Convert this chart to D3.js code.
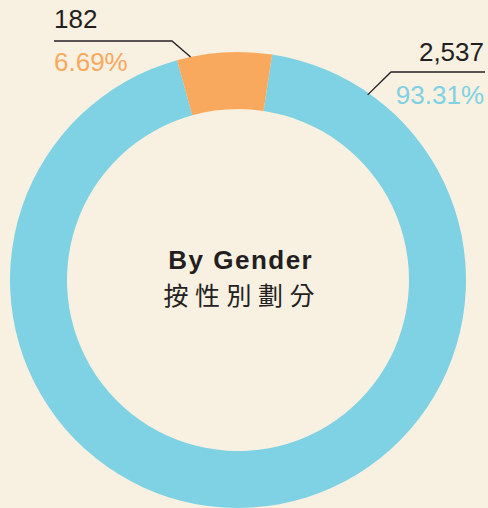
<!DOCTYPE html>
<html>
<head>
<meta charset="utf-8">
<script src="https://cdn.jsdelivr.net/npm/d3@7"></script>
<style>
  body { margin: 0; background: #f8f0e1; }
  svg { display: block; }
</style>
</head>
<body>
<svg id="chart" width="488" height="508"></svg>
<script>
// data
var categories = ["Male", "Female"];
var counts = [2537, 182];
var countLabels = ["2,537", "182"];
var percentLabels = ["93.31%", "6.69%"];
var colors = ["#7fd2e3", "#f8a95d"];

var width = 488, height = 508;
var cx = 238, cy = 280;
var outerR = 228, innerR = 171;

var svg = d3.select("#chart");

var g = svg.append("g").attr("transform", "translate(" + cx + "," + cy + ")");

// pie starts a bit past 12 o'clock so the small slice sits near the top
var startOffset = 8.6 * Math.PI / 180;
var pie = d3.pie()
  .sort(null)
  .startAngle(startOffset)
  .endAngle(startOffset + 2 * Math.PI);

var arcs = pie(counts);

var arc = d3.arc().innerRadius(innerR).outerRadius(outerR);

g.selectAll("path")
  .data(arcs)
  .enter()
  .append("path")
  .attr("d", arc)
  .style("fill", function (d, i) { return colors[i]; });

// leader lines + labels
var labelLayout = [
  // male
  { tipAngle: 35, tipR: 226, elbow: [391 - cx, 72 - cy], end: [485 - cx, 72 - cy], anchor: "end", tx: 484 - cx, ty1: 61 - cy, ty2: 104 - cy },
  // female
  { tipAngle: -12, tipR: 228, elbow: [172 - cx, 41 - cy], end: [54 - cx, 41 - cy], anchor: "start", tx: 54 - cx, ty1: 28 - cy, ty2: 71 - cy }
];

var line = d3.line();

labelLayout.forEach(function (l, i) {
  var tip = d3.pointRadial(l.tipAngle * Math.PI / 180, l.tipR);
  g.append("path")
    .attr("d", line([tip, l.elbow, l.end]))
    .style("fill", "none")
    .style("stroke", "#231f20")
    .style("stroke-width", 1.3);

  g.append("text")
    .attr("x", l.tx)
    .attr("y", l.ty1)
    .attr("text-anchor", l.anchor)
    .attr("font-family", "'Liberation Sans', Arial, sans-serif")
    .attr("font-size", "26px")
    .attr("fill", "#231f20")
    .text(countLabels[i]);

  g.append("text")
    .attr("x", l.tx)
    .attr("y", l.ty2)
    .attr("text-anchor", l.anchor)
    .attr("font-family", "'Liberation Sans', Arial, sans-serif")
    .attr("font-size", "26px")
    .attr("fill", colors[i])
    .text(percentLabels[i]);
});

// centre title
g.append("text")
  .attr("x", 2 + 0.75)
  .attr("y", 269 - cy)
  .attr("text-anchor", "middle")
  .attr("font-family", "'Liberation Sans', Arial, sans-serif")
  .attr("font-weight", "bold")
  .attr("font-size", "26px")
  .attr("letter-spacing", "1.5px")
  .attr("fill", "#231f20")
  .text("By Gender");

g.append("text")
  .attr("x", 1 + 3.25)
  .attr("y", 305 - cy)
  .attr("text-anchor", "middle")
  .attr("font-family", "'Noto Sans CJK TC', sans-serif")
  .attr("font-size", "25px")
  .attr("letter-spacing", "6.5px")
  .attr("fill", "#231f20")
  .text("按性別劃分");
</script>
</body>
</html>
